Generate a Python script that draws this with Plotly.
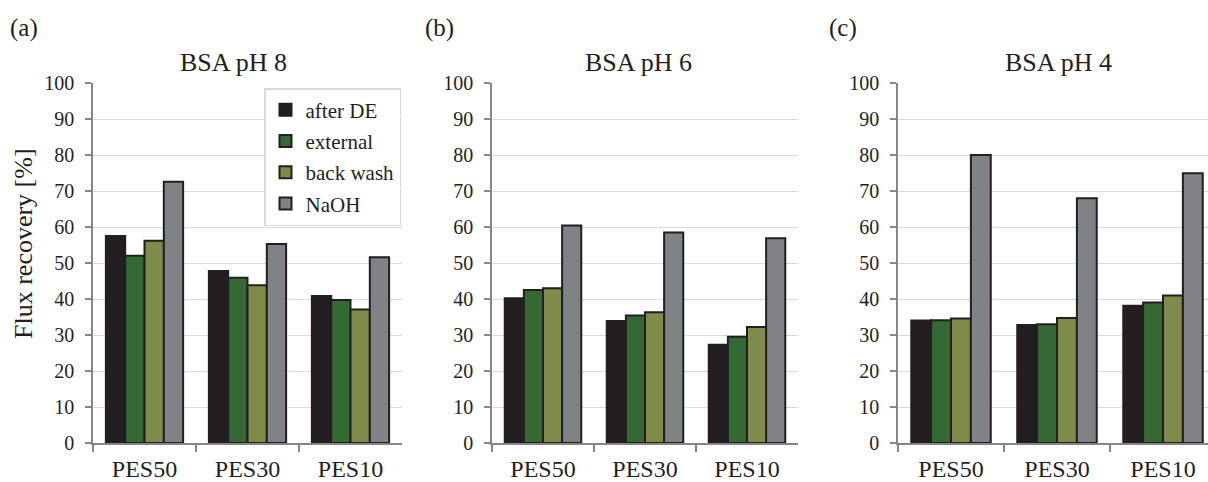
import plotly.graph_objects as go

# Flux recovery after each cleaning step, per membrane and BSA pH
membranes = ["PES50", "PES30", "PES10"]
steps = ["after DE", "external", "back wash", "NaOH"]
step_colors = ["#231f20", "#356934", "#7f8b48", "#808285"]

ph8_after_de = [57.5, 47.8, 40.8]
ph8_external = [52.0, 45.9, 39.7]
ph8_back_wash = [56.2, 43.8, 37.1]
ph8_naoh = [72.6, 55.3, 51.6]

ph6_after_de = [40.2, 33.9, 27.3]
ph6_external = [42.5, 35.4, 29.5]
ph6_back_wash = [43.0, 36.3, 32.2]
ph6_naoh = [60.4, 58.5, 56.9]

ph4_after_de = [34.0, 32.8, 38.1]
ph4_external = [34.1, 33.0, 39.0]
ph4_back_wash = [34.6, 34.7, 41.0]
ph4_naoh = [80.0, 68.0, 74.9]

panels = [
    ("BSA pH 8", "(a)", [ph8_after_de, ph8_external, ph8_back_wash, ph8_naoh]),
    ("BSA pH 6", "(b)", [ph6_after_de, ph6_external, ph6_back_wash, ph6_naoh]),
    ("BSA pH 4", "(c)", [ph4_after_de, ph4_external, ph4_back_wash, ph4_naoh]),
]

W, H = 1208, 482
FONT = "Liberation Serif"

# panel plot areas in pixels (left, right)
x_px = [(93, 402), (492, 798), (898, 1208)]
x_ranges = [[-0.5, 2.5], [-0.5, 2.5], [-0.5, -0.5 + 310 / 106]]
y_bottom_px, y_top_px = 443, 83
title_px = [(233, 63), (638, 63), (1058, 63)]
label_px = [(24, 28), (440, 28), (843, 28)]


def px_x(v):
    return v / W


def px_y(v):
    return 1 - v / H


fig = go.Figure()

for i, (title, tag, series) in enumerate(panels):
    xa = "x" if i == 0 else f"x{i + 1}"
    ya = "y" if i == 0 else f"y{i + 1}"
    for name, color, vals in zip(steps, step_colors, series):
        fig.add_trace(go.Bar(
            x=membranes, y=vals, name=name,
            marker=dict(color=color, line=dict(color="#231f20", width=2)),
            xaxis=xa, yaxis=ya,
            legendgroup=name, showlegend=(i == 0),
        ))

    axis_suffix = "" if i == 0 else str(i + 1)
    fig.update_layout({
        f"xaxis{axis_suffix}": dict(
            domain=[px_x(x_px[i][0]), px_x(x_px[i][1])],
            anchor=ya,
            range=x_ranges[i], type="category",
            tickson="boundaries", ticks="outside", ticklen=7,
            tickcolor="#868686", tickwidth=1.5,
            showline=True, linecolor="#868686", linewidth=1.5,
            showgrid=False, zeroline=False,
            tickfont=dict(family=FONT, size=24, color="#231f20"),
            ticklabelstandoff=3,
        ),
        f"yaxis{axis_suffix}": dict(
            domain=[px_y(y_bottom_px), px_y(y_top_px)],
            anchor=xa,
            range=[0, 100], dtick=10, tick0=0,
            ticks="outside", ticklen=6, tickcolor="#868686", tickwidth=1.5,
            showline=True, linecolor="#868686", linewidth=1.5,
            showgrid=True, gridcolor="#d9d9d9", gridwidth=1.3,
            zeroline=False,
            tickfont=dict(family=FONT, size=20, color="#231f20"),
            ticklabelstandoff=7,
        ),
    })

    fig.add_annotation(
        x=px_x(title_px[i][0]), y=px_y(title_px[i][1]), xref="paper", yref="paper",
        text=title, showarrow=False, xanchor="center", yanchor="middle",
        font=dict(family=FONT, size=26, color="#231f20"),
    )
    fig.add_annotation(
        x=px_x(label_px[i][0]), y=px_y(label_px[i][1]), xref="paper", yref="paper",
        text=tag, showarrow=False, xanchor="center", yanchor="middle",
        font=dict(family=FONT, size=25, color="#231f20"),
    )

fig.add_annotation(
    x=px_x(23), y=px_y(244), xref="paper", yref="paper",
    text="Flux recovery [%]", showarrow=False, textangle=-90,
    xanchor="center", yanchor="middle",
    font=dict(family=FONT, size=26, color="#231f20"),
)

fig.update_layout(
    width=W, height=H,
    margin=dict(l=0, r=0, t=0, b=0, autoexpand=False),
    paper_bgcolor="white", plot_bgcolor="white",
    barmode="group", bargap=0.25, bargroupgap=0,
    legend=dict(
        x=px_x(264), y=px_y(88), xanchor="left", yanchor="top",
        bgcolor="white", bordercolor="#d9d9d9", borderwidth=1.5,
        font=dict(family=FONT, size=21, color="#231f20"),
        traceorder="grouped", tracegroupgap=1,
    ),
    font=dict(family=FONT, color="#231f20"),
)

fig.write_html("out.html")
